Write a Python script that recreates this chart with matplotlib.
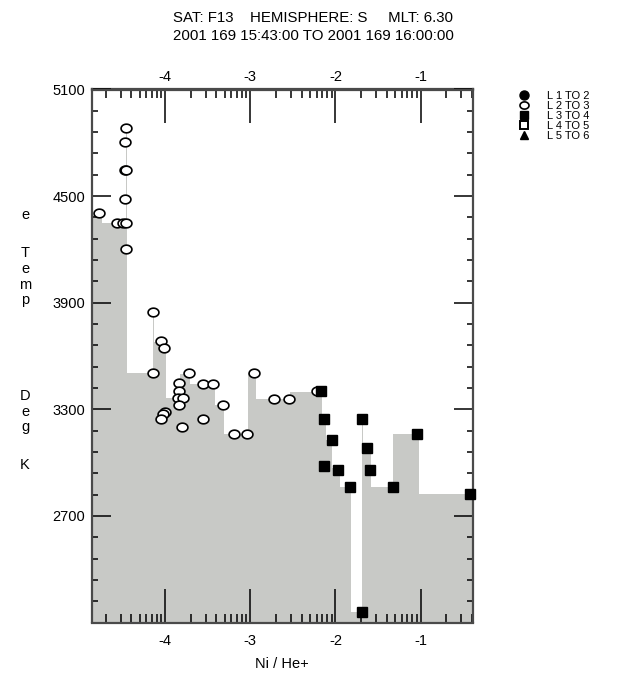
import numpy as np
import matplotlib
matplotlib.use('Agg')
import matplotlib.pyplot as plt
from matplotlib.path import Path
from matplotlib.lines import Line2D

plt.rcParams['font.family'] = ['Liberation Sans', 'DejaVu Sans']
plt.rcParams['axes.unicode_minus'] = False

# x values are log10(Ni / He+), y values are electron temperature (deg K)
title_1 = 'SAT: F13    HEMISPHERE: S     MLT: 6.30'
title_2 = '2001 169 15:43:00 TO 2001 169 16:00:00'
legend_labels = ['L 1 TO 2', 'L 2 TO 3', 'L 3 TO 4', 'L 4 TO 5', 'L 5 TO 6']
x_ticks = [-4, -3, -2, -1]
y_ticks = [2700, 3300, 3900, 4500, 5100]

# L 2 TO 3 points (open circles)
l23_x = [-4.461, -4.477, -4.47, -4.46, -4.477, -4.775, -4.563, -4.500, -4.461, -4.461,
         -4.141, -4.054, -4.015, -4.141, -3.722, -3.842, -3.554, -3.437, -3.842, -3.847,
         -3.789, -3.842, -3.326, -4.004, -4.023, -4.050, -3.554, -3.808, -3.190, -3.035,
         -2.962, -2.721, -2.548, -2.216]
l23_y = [4882, 4805, 4648, 4648, 4486, 4405, 4347, 4347, 4347, 4204,
         3848, 3683, 3645, 3504, 3504, 3448, 3445, 3445, 3404, 3362,
         3362, 3323, 3325, 3284, 3275, 3245, 3246, 3203, 3160, 3160,
         3504, 3360, 3360, 3404]

# L 3 TO 4 points (filled squares)
l34_x = [-2.173, -2.134, -2.043, -2.134, -1.973, -1.833, -1.688, -1.629, -1.597,
         -1.327, -1.046, -0.415, -1.688]
l34_y = [3404, 3246, 3126, 2982, 2959, 2862, 3246, 3081, 2959,
         2862, 3160, 2822, 2157]

# grey step background
step_edges = [-4.860, -4.743, -4.461, -4.444, -4.139, -4.127, -3.992, -3.822, -3.710,
              -3.417, -3.311, -3.029, -2.935, -2.536, -2.153, -2.114, -2.035, -1.950,
              -1.820, -1.688, -1.676, -1.577, -1.324, -1.022, -0.394]
step_levels = [4393, 4351, 4882, 3504, 3848, 3680, 3363, 3500, 3444,
               3325, 3160, 3504, 3360, 3400, 3241, 3128, 2970, 2862,
               2160, 3246, 3090, 2865, 3160, 2822]

x_min, x_max = -4.86, -0.39
y_min, y_max = 2100, 5100

fig = plt.figure(figsize=(6.24, 6.8), dpi=100)
ax = fig.add_axes([92 / 624, 1 - 622.5 / 680, 380.5 / 624, 533 / 680])

ax.stairs(step_levels, step_edges, baseline=y_min, fill=True, color='#c8c9c6',
          linewidth=0, zorder=1)

# slightly flattened circle marker (wider than tall)
t = np.linspace(0, 2 * np.pi, 40)
oval = Path(np.column_stack([np.cos(t), 0.8 * np.sin(t)]), closed=True)

ax.plot(l23_x, l23_y, linestyle='none', marker=oval, markersize=7.8,
        markerfacecolor='white', markeredgecolor='black', markeredgewidth=1.2,
        zorder=3, clip_on=False)
ax.plot(l34_x, l34_y, linestyle='none', marker='s', markersize=7.5,
        color='black', zorder=4, clip_on=False)

ax.set_xlim(x_min, x_max)
ax.set_ylim(y_min, y_max)

minor_x = [d + np.log10(k) for d in range(-5, 0) for k in range(2, 10)]
minor_x = [v for v in minor_x if x_min <= v <= x_max]

ax.set_xticks(x_ticks)
ax.set_xticklabels([str(v) for v in x_ticks])
ax.set_xticks(minor_x, minor=True)
ax.set_yticks(y_ticks)
ax.set_yticks(np.arange(2220, 5100, 120), minor=True)

ax.tick_params(axis='x', which='major', direction='in', length=24.5, width=1.1,
               top=False, bottom=True, labelsize=10.5, pad=8.5)
ax.tick_params(axis='x', which='minor', direction='in', length=6.5, width=1.1,
               top=False, bottom=True)
ax.tick_params(axis='y', which='major', direction='in', length=13.5, width=1.1,
               left=True, right=True, labelsize=10.5, pad=5)
ax.tick_params(axis='y', which='minor', direction='in', length=4.3, width=1.1,
               left=True, right=True)

# top axis with same ticks, closer labels
top = ax.secondary_xaxis('top')
top.set_xticks(x_ticks)
top.set_xticklabels([str(v) for v in x_ticks])
top.set_xticks(minor_x, minor=True)
top.tick_params(axis='x', which='major', direction='in', length=24.5, width=1.1,
                labelsize=10.5, pad=4)
top.tick_params(axis='x', which='minor', direction='in', length=6.5, width=1.1)
top.spines['top'].set_color('#4a4a4a')
top.spines['top'].set_linewidth(1.6)

for sp in ax.spines.values():
    sp.set_color('#4a4a4a')
    sp.set_linewidth(1.6)

ax.set_xlabel('Ni / He+', fontsize=10.5, labelpad=6)

fig.text(313 / 624, 1 - 18 / 680, title_1, ha='center', va='center', fontsize=10.8)
fig.text(313 / 624, 1 - 36 / 680, title_2, ha='center', va='center', fontsize=10.8)

# stacked y label
ylab_chars = ['e', 'T', 'e', 'm', 'p', 'D', 'e', 'g', 'K']
ylab_pos = [215, 253, 269, 285, 300, 396, 412, 427, 465]
for ch, yp in zip(ylab_chars, ylab_pos):
    fig.text(25 / 624, 1 - yp / 680, ch, ha='center', va='center', fontsize=10.5)

handles = [
    Line2D([], [], linestyle='none', marker='o', color='black', markersize=6.5),
    Line2D([], [], linestyle='none', marker=oval, markersize=6.5, markerfacecolor='white',
           markeredgecolor='black', markeredgewidth=1.2),
    Line2D([], [], linestyle='none', marker='s', color='black', markersize=6),
    Line2D([], [], linestyle='none', marker='s', markersize=5.5, markerfacecolor='white',
           markeredgecolor='black', markeredgewidth=1.4),
    Line2D([], [], linestyle='none', marker='^', color='black', markersize=6),
]
fig.legend(handles, legend_labels, loc='upper left',
           bbox_to_anchor=(514 / 624, 1 - 85 / 680), frameon=False, fontsize=8,
           labelspacing=0.0, handlelength=0.8, handletextpad=1.7, borderpad=0)

fig.savefig('out.png', dpi=100)
